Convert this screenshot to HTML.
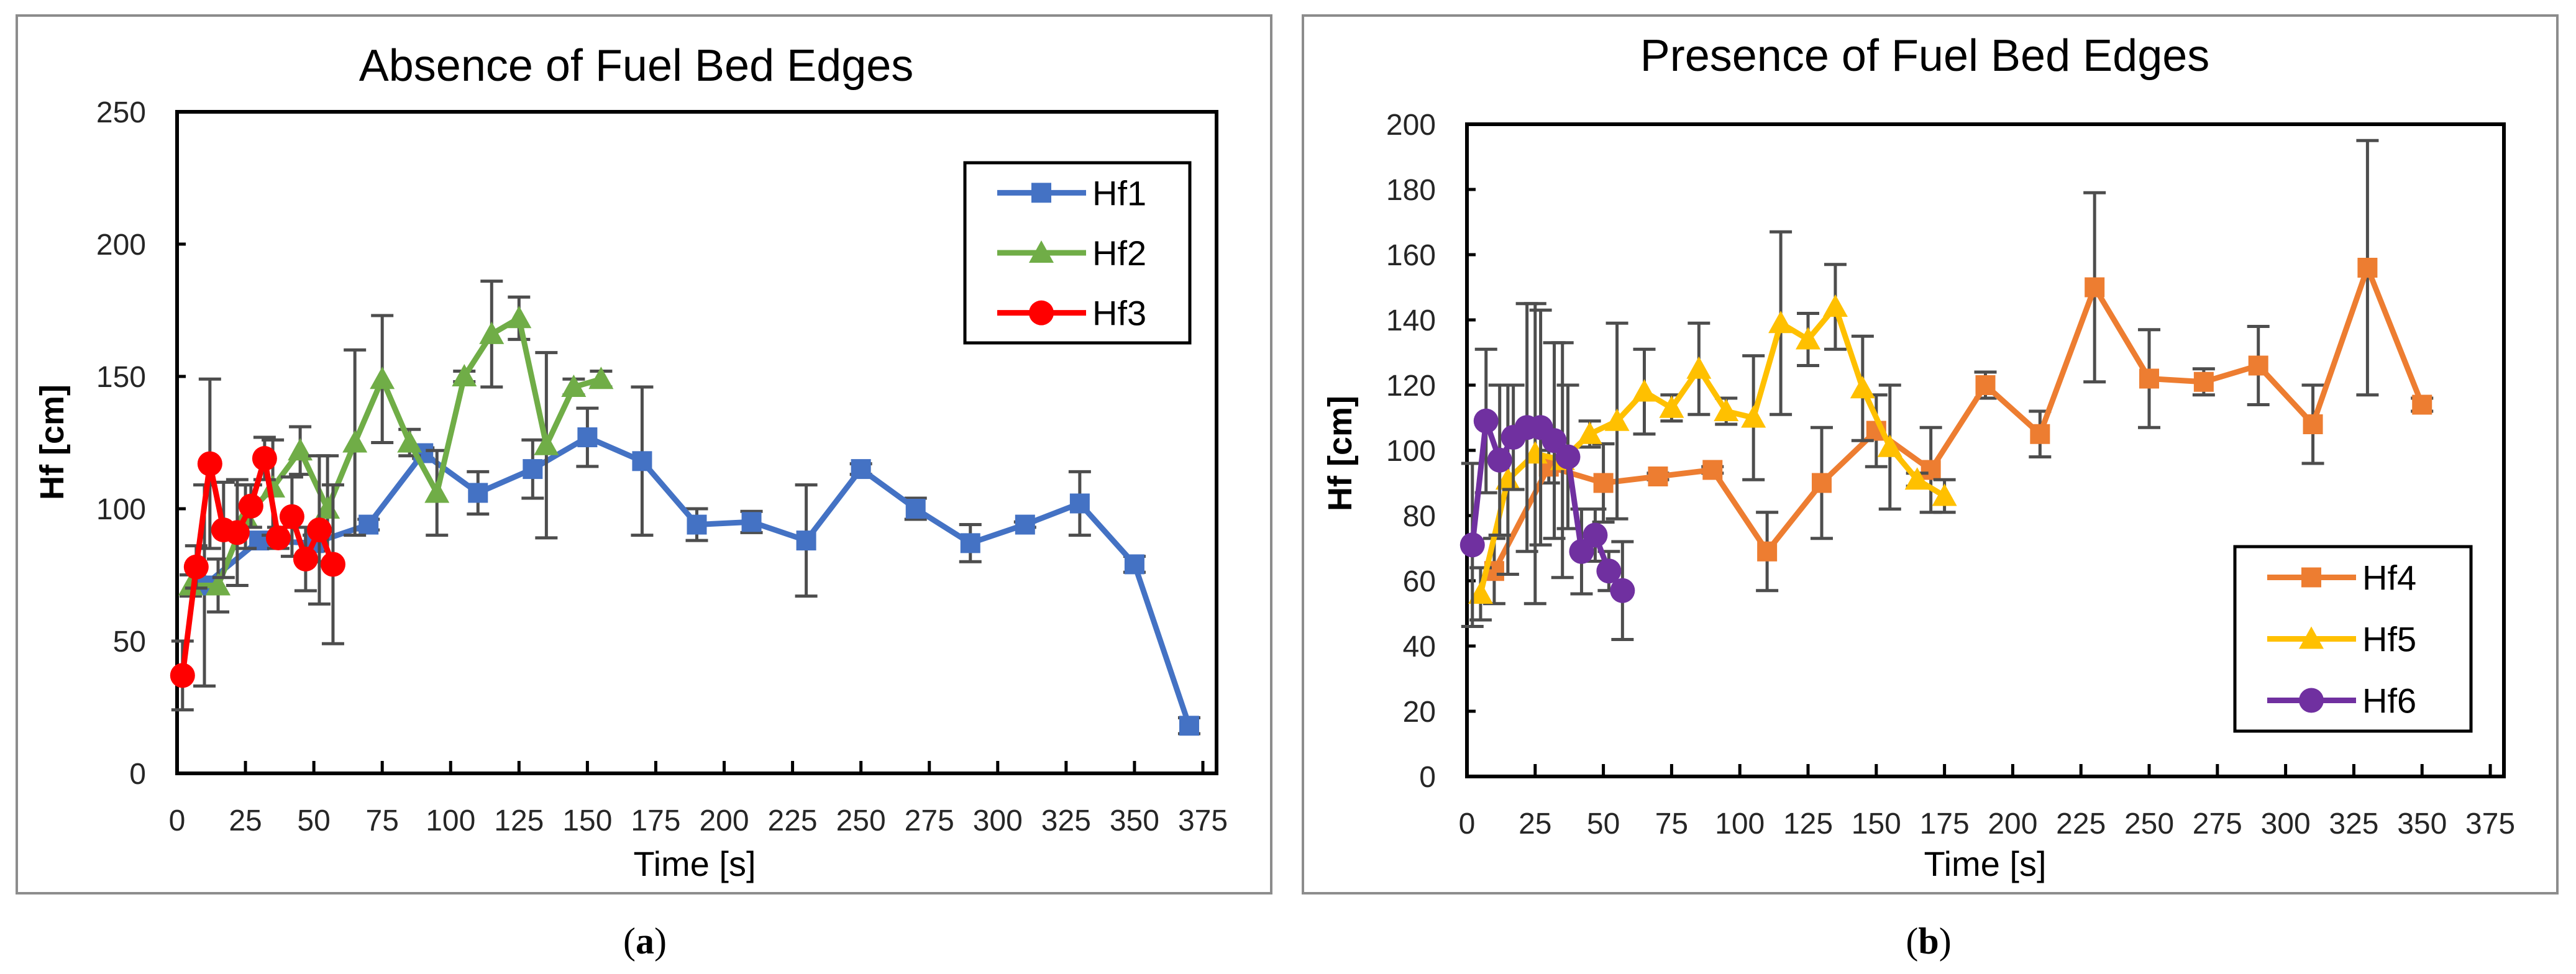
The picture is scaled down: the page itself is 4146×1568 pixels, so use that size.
<!DOCTYPE html>
<html><head><meta charset="utf-8"><style>
html,body{margin:0;padding:0;background:#fff;}
svg{display:block;font-family:"Liberation Sans",sans-serif;}
</style></head><body>
<svg id="root" width="4146" height="1568" viewBox="0 0 4146 1568" xmlns="http://www.w3.org/2000/svg">
<rect x="0" y="0" width="4146" height="1568" fill="#fff"/>
<g id="pa"></g>
<g id="pb"></g>
</svg>
<script>
// ---------- Panel A data ----------
const xTicksA = [0,25,50,75,100,125,150,175,200,225,250,275,300,325,350,375];
const yTicksA = [0,50,100,150,200,250];
const hf1X = [10,30,50,70,90,110,130,150,170,190,210,230,250,270,290,310,330,350,370];
const hf1Y = [71,88,87,94,121,106,115,127,118,94,95,88,115,100,87,94,102,79,18];
const hf1E = [38,3,3,2,2,8,11,11,28,6,4,21,2,4,7,1,12,3,3];
const hf2X = [5,15,25,35,45,55,65,75,85,95,105,115,125,135,145,155];
const hf2Y = [71,71,97,108,122,100,125,149,125,106,150,166,172,124,146,149];
const hf2E = [4,10,12,18,9,20,35,24,5,16,2,20,8,35,3,3];
const hf3X = [2,7,12,17,22,27,32,37,42,47,52,57];
const hf3Y = [37,78,117,92,91,101,119,89,97,81,92,79];
const hf3E = [13,8,32,18,20,8,8,4,15,12,28,30];
// ---------- Panel B data ----------
const xTicksB = [0,25,50,75,100,125,150,175,200,225,250,275,300,325,350,375];
const yTicksB = [0,20,40,60,80,100,120,140,160,180,200];
const hf4X = [10,30,50,70,90,110,130,150,170,190,210,230,250,270,290,310,330,350];
const hf4Y = [63,95,90,92,94,69,90,106,94,120,105,150,122,121,126,108,156,114];
const hf4E = [10,5,12,1,1,12,17,11,13,4,7,29,15,4,12,12,39,2];
const hf5X = [5,15,25,35,45,55,65,75,85,95,105,115,125,135,145,155,165,175];
const hf5Y = [56,91,99,97,105,109,118,113,125,112,110,139,134,144,119,101,91,86];
const hf5E = [8,29,46,36,4,30,13,4,14,4,19,28,8,13,16,19,2,5];
const hf6X = [2,7,12,17,22,27,32,37,42,47,52,57];
const hf6Y = [71,109,97,104,107,107,103,98,69,74,63,57];
const hf6E = [25,22,23,16,38,36,30,22,13,8,6,15];

const NS = "http://www.w3.org/2000/svg";
function mk(parent, tag, attrs){
  const e = document.createElementNS(NS, tag);
  for (const k in attrs) e.setAttribute(k, attrs[k]);
  parent.appendChild(e);
  return e;
}

function drawPanel(g, cfg){
  const sx = v => cfg.px0 + (v - 0) / (cfg.xmax) * (cfg.px1 - cfg.px0);
  const sy = v => cfg.py0 - v / cfg.ymax * (cfg.py0 - cfg.py1);
  const fr = mk(g, 'rect', {x:cfg.fx0, y:cfg.fy0, width:cfg.fx1-cfg.fx0, height:cfg.fy1-cfg.fy0, fill:'#fff', stroke:'#8c8c8c', 'stroke-width':4});
  
  
  const t = mk(g, 'text', {x:cfg.titleX, y:cfg.titleY, 'font-size':72, 'text-anchor':'middle', fill:'#000'});
  t.textContent = cfg.title;
  
  
  const pb = mk(g, 'rect', {x:cfg.px0, y:cfg.py1, width:cfg.px1-cfg.px0, height:cfg.py0-cfg.py1, fill:'none', stroke:'#000', 'stroke-width':6});
  
  
  cfg.yTicks.forEach(v => {
    const y = sy(v);
    const tl = mk(g, 'line', {x1:cfg.px0, x2:cfg.px0+14, y1:y, y2:y, stroke:'#000', 'stroke-width':5});
    
    
    const tx = mk(g, 'text', {x:cfg.px0-50, y:y+17, 'font-size':48, 'text-anchor':'end', fill:'#262626'});
    tx.textContent = v;
    
    
  });
  cfg.xTicks.forEach(v => {
    const x = sx(v);
    const tl = mk(g, 'line', {x1:x, x2:x, y1:cfg.py0, y2:cfg.py0-20, stroke:'#000', 'stroke-width':5});
    
    
    const tx = mk(g, 'text', {x:x, y:cfg.py0+92, 'font-size':48, 'text-anchor':'middle', fill:'#262626'});
    tx.textContent = v;
    
    
  });
  const xt = mk(g, 'text', {x:cfg.xTitleX, y:1410, 'font-size':56, 'text-anchor':'middle', fill:'#000'});
  xt.textContent = 'Time [s]';
  
  
  const yt = mk(g, 'text', {x:0, y:0, 'font-size':54, 'font-weight':'bold', 'text-anchor':'middle', fill:'#000', transform:`translate(${cfg.yTitleX},${cfg.yTitleY}) rotate(-90)`});
  yt.textContent = 'Hf [cm]';
  
  

  cfg.series.forEach(s => {
    const sg = mk(g, 'g', {});
    
    
    s.x.forEach((xv, i) => {
      const x = sx(xv), y1 = sy(s.y[i] - s.e[i]), y2 = sy(s.y[i] + s.e[i]);
      const eb = mk(sg, 'path', {d:`M${x},${y1}V${y2}M${x-18},${y1}H${x+18}M${x-18},${y2}H${x+18}`, stroke:'#4d4d4d', 'stroke-width':5, fill:'none'});
      
      
    });
    const pts = s.x.map((xv, i) => sx(xv) + ',' + sy(s.y[i])).join(' ');
    const pl = mk(sg, 'polyline', {points:pts, fill:'none', stroke:s.color, 'stroke-width':9, 'stroke-linejoin':'round'});
    
    
    s.x.forEach((xv, i) => {
      const m = marker(sg, s.marker, sx(xv), sy(s.y[i]), s.color);
      
      
    });
  });

  const lg = mk(g, 'g', {});
  
  
  const lr = mk(lg, 'rect', {x:cfg.lx0, y:cfg.ly0, width:cfg.lx1-cfg.lx0, height:cfg.ly1-cfg.ly0, fill:'#fff', stroke:'#000', 'stroke-width':5});
  
  
  const step = (cfg.ly1 - cfg.ly0) / 3;
  cfg.series.forEach((s, i) => {
    const cy = cfg.ly0 + step * (i + 0.5);
    const eg = mk(lg, 'g', {});
    
    
    mk(eg, 'line', {x1:cfg.lx0+52, x2:cfg.lx0+195, y1:cy, y2:cy, stroke:s.color, 'stroke-width':9});
    marker(eg, s.marker, cfg.lx0+123, cy, s.color);
    const lt = mk(eg, 'text', {x:cfg.lx0+205, y:cy+20, 'font-size':56, fill:'#000'});
    lt.textContent = s.name;
  });

  const cap = mk(g, 'text', {x:cfg.capX, y:1535, 'font-size':60, 'text-anchor':'middle', fill:'#000', 'font-family':'Liberation Serif, serif'});
  cap.innerHTML = '(<tspan font-weight="bold">' + cfg.cap + '</tspan>)';
  
  
}

function marker(g, type, x, y, c){
  if (type === 'square') return mk(g, 'rect', {x:x-16, y:y-16, width:32, height:32, fill:c});
  if (type === 'triangle') return mk(g, 'path', {d:`M${x},${y-20}L${x+20},${y+16}L${x-20},${y+16}Z`, fill:c});
  return mk(g, 'circle', {cx:x, cy:y, r:20, fill:c});
}

drawPanel(document.getElementById('pa'), {
  title:'Absence of Fuel Bed Edges', titleX:1024, titleY:130,
  fx0:27, fy0:25, fx1:2046, fy1:1438,
  px0:285, px1:1958, py0:1245, py1:180, xmax:380, ymax:250,
  xTicks:xTicksA, yTicks:yTicksA,
  xTitleX:1118, yTitleX:102, yTitleY:712,
  lx0:1553, ly0:262, lx1:1915, ly1:552,
  capX:1038, cap:'a',
  series:[
    {name:'Hf1', x:hf1X, y:hf1Y, e:hf1E, color:'#4472c4', marker:'square'},
    {name:'Hf2', x:hf2X, y:hf2Y, e:hf2E, color:'#70ad47', marker:'triangle'},
    {name:'Hf3', x:hf3X, y:hf3Y, e:hf3E, color:'#ff0000', marker:'circle'}
  ]
});
drawPanel(document.getElementById('pb'), {
  title:'Presence of Fuel Bed Edges', titleX:3098, titleY:114,
  fx0:2097, fy0:25, fx1:4116, fy1:1438,
  px0:2361, px1:4030, py0:1250, py1:200, xmax:380, ymax:200,
  xTicks:xTicksB, yTicks:yTicksB,
  xTitleX:3195, yTitleX:2175, yTitleY:730,
  lx0:3597, ly0:880, lx1:3977, ly1:1177,
  capX:3104, cap:'b',
  series:[
    {name:'Hf4', x:hf4X, y:hf4Y, e:hf4E, color:'#ed7d31', marker:'square'},
    {name:'Hf5', x:hf5X, y:hf5Y, e:hf5E, color:'#ffc000', marker:'triangle'},
    {name:'Hf6', x:hf6X, y:hf6Y, e:hf6E, color:'#7030a0', marker:'circle'}
  ]
});
</script>
</body></html>
